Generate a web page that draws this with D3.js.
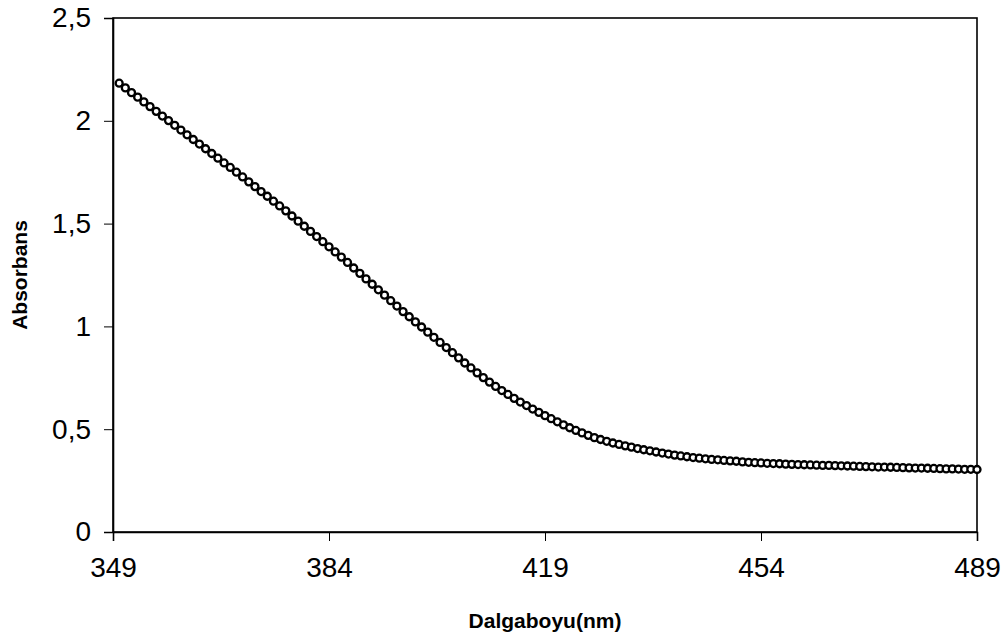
<!DOCTYPE html>
<html>
<head>
<meta charset="utf-8">
<script src="https://cdn.jsdelivr.net/npm/d3@7"></script>
<style>
html,body{margin:0;padding:0;background:#fff;}
svg{display:block;}
</style>
</head>
<body>
<svg id="chart" width="1008" height="641"></svg>
<script>
// Wavelength (nm), 1 nm steps from 350 to 489
const wavelengths = d3.range(350, 490);
// Absorbance readings, one per wavelength
const absorbance = [
 2.183,2.160,2.137,2.115,2.092,2.069,2.046,2.023,2.001,1.978,
 1.955,1.932,1.909,1.887,1.864,1.841,1.818,1.795,1.773,1.750,
 1.727,1.703,1.680,1.656,1.633,1.609,1.586,1.562,1.537,1.512,
 1.487,1.462,1.437,1.412,1.387,1.362,1.337,1.311,1.284,1.258,
 1.231,1.205,1.178,1.152,1.125,1.099,1.072,1.047,1.022,0.997,
 0.972,0.947,0.922,0.897,0.872,0.847,0.822,0.798,0.774,0.751,
 0.729,0.708,0.688,0.669,0.650,0.632,0.615,0.598,0.582,0.566,
 0.551,0.536,0.521,0.507,0.494,0.482,0.470,0.459,0.450,0.441,
 0.433,0.426,0.419,0.413,0.406,0.400,0.395,0.389,0.384,0.379,
 0.374,0.370,0.366,0.362,0.359,0.356,0.353,0.351,0.348,0.346,
 0.344,0.341,0.339,0.337,0.336,0.334,0.333,0.332,0.330,0.329,
 0.328,0.327,0.326,0.325,0.324,0.324,0.323,0.322,0.321,0.320,
 0.319,0.318,0.317,0.316,0.316,0.315,0.314,0.313,0.312,0.311,
 0.311,0.310,0.309,0.308,0.307,0.307,0.306,0.305,0.305,0.304
];
const xTicks = [349, 384, 419, 454, 489];
const yTicks = [0, 0.5, 1, 1.5, 2, 2.5];
const xTitle = "Dalgaboyu(nm)";
const yTitle = "Absorbans";

const data = wavelengths.map((w, i) => ({x: w, y: absorbance[i]}));

const svg = d3.select("#chart");
const margin = {left: 113, right: 1008 - 977, top: 18, bottom: 641 - 532};
const W = 1008, H = 641;

const x = d3.scaleLinear().domain([349, 489]).range([margin.left, W - margin.right]);
const y = d3.scaleLinear().domain([0, 2.5]).range([H - margin.bottom, margin.top]);

const fmt = d => String(d).replace(".", ",");
const FONT = "Liberation Sans, Arial, sans-serif";

// Plot frame
svg.append("rect")
  .attr("x", x(349)).attr("y", y(2.5))
  .attr("width", x(489) - x(349)).attr("height", y(0) - y(2.5))
  .attr("fill", "none").attr("stroke", "#000").attr("stroke-width", 1.6);

// Y axis
const yAxis = svg.append("g")
  .attr("transform", `translate(${x(349)},0)`)
  .call(d3.axisLeft(y).tickValues(yTicks).tickFormat(fmt).tickSize(9).tickPadding(13));
yAxis.select(".domain").attr("stroke", "#000").attr("stroke-width", 1.6);
yAxis.selectAll(".tick line").attr("stroke", "#000").attr("stroke-width", 1);
yAxis.selectAll("text").attr("font-family", FONT)
  .attr("font-size", 28).attr("fill", "#000");

// X axis
const xAxis = svg.append("g")
  .attr("transform", `translate(0,${y(0)})`)
  .call(d3.axisBottom(x).tickValues(xTicks).tickFormat(d => d).tickSize(9).tickPadding(16));
xAxis.select(".domain").attr("stroke", "#000").attr("stroke-width", 1.6);
xAxis.selectAll(".tick line").attr("stroke", "#000").attr("stroke-width", 1);
xAxis.selectAll("text").attr("font-family", FONT)
  .attr("font-size", 28).attr("fill", "#000");

// Axis titles
svg.append("text")
  .attr("x", (x(349) + x(489)) / 2).attr("y", 628)
  .attr("text-anchor", "middle")
  .attr("font-family", FONT)
  .attr("font-weight", "bold").attr("font-size", 21)
  .text(xTitle);

svg.append("text")
  .attr("transform", `translate(27,${(y(0) + y(2.5)) / 2}) rotate(-90)`)
  .attr("text-anchor", "middle")
  .attr("font-family", FONT)
  .attr("font-weight", "bold").attr("font-size", 21)
  .text(yTitle);

// Series line
svg.append("path")
  .datum(data)
  .attr("fill", "none").attr("stroke", "#000").attr("stroke-width", 1.2)
  .attr("d", d3.line().x(d => x(d.x)).y(d => y(d.y)));

// Markers
svg.append("g").selectAll("circle")
  .data(data).join("circle")
  .attr("cx", d => x(d.x)).attr("cy", d => y(d.y))
  .attr("r", 3.5)
  .attr("fill", "#fff").attr("stroke", "#000").attr("stroke-width", 2.3);
</script>
</body>
</html>
